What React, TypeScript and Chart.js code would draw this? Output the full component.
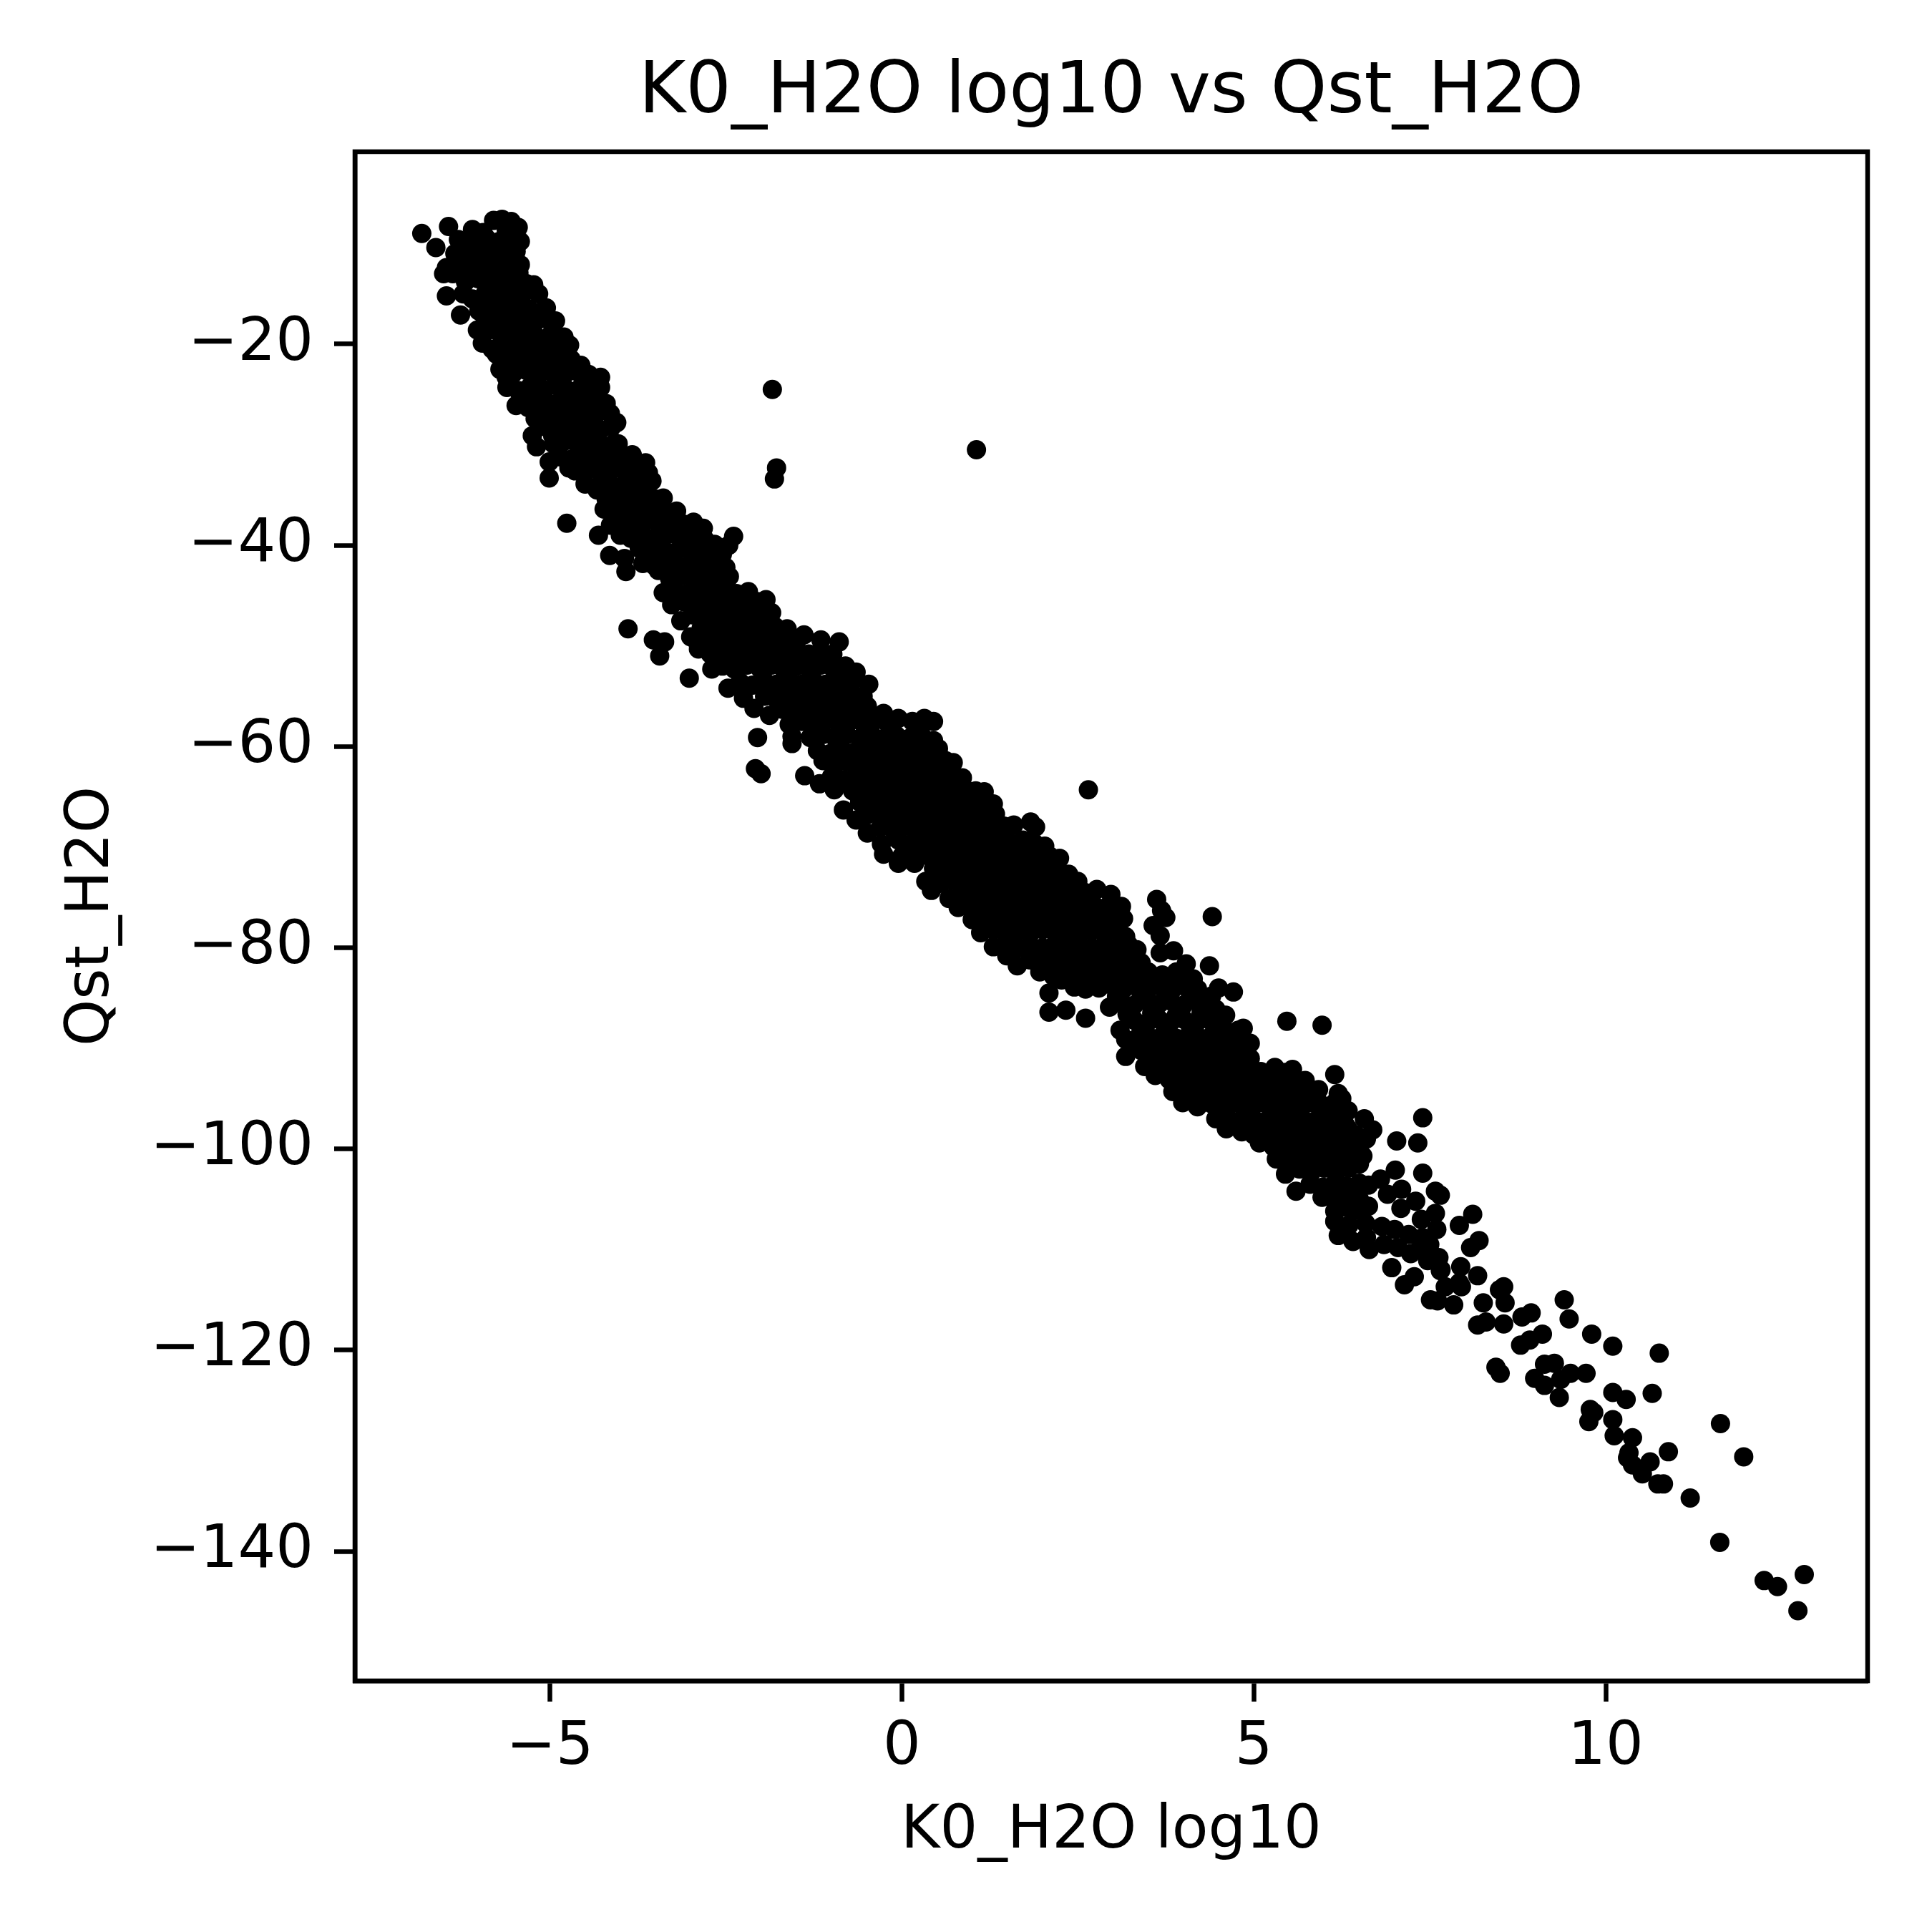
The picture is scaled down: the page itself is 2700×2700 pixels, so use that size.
import { useEffect, useRef } from "react";
import Chart from "chart.js/auto";

// Points, [K0_H2O log10, Qst_H2O]
const topCluster: Array<[number, number]> = [
  [-6.82, -9.0], [-6.62, -10.4], [-6.44, -8.3], [-6.47, -12.4], [-6.51, -13.0], [-6.47, -15.2], [-6.23, -15.0], [-6.27, -17.1], [-6.3, -9.6], [-6.35, -11.0],
  [-5.8, -7.7], [-5.68, -7.6], [-5.55, -7.8], [-5.45, -8.4], [-6.1, -8.6], [-5.95, -8.9], [-5.62, -8.7],
  [-6.05, -9.7], [-5.9, -9.5], [-5.72, -9.8], [-5.55, -9.4], [-5.42, -9.8],
  [-6.15, -10.5], [-6.0, -10.2], [-5.82, -10.6], [-5.65, -10.3], [-5.48, -10.8],
  [-6.23, -11.3], [-6.05, -11.6], [-5.88, -11.2], [-5.7, -11.5], [-5.52, -11.3], [-5.42, -12.1],
  [-6.3, -12.6], [-6.12, -12.3], [-5.95, -12.7], [-5.78, -12.4], [-5.6, -12.8], [-5.44, -12.9],
  [-6.38, -13.0], [-6.2, -13.8], [-6.02, -13.5], [-5.85, -13.9], [-5.67, -13.6], [-5.5, -13.8], [-5.33, -14.0], [-5.23, -14.1],
  [-6.1, -15.5], [-5.92, -15.0], [-5.75, -15.3], [-5.58, -14.9], [-5.4, -15.2], [-5.16, -15.0],
  [-6.01, -16.7], [-5.84, -16.3], [-5.66, -16.6], [-5.49, -16.2], [-5.3, -16.5], [-5.12, -16.8], [-5.05, -16.4],
  [-5.92, -17.8], [-5.75, -17.5], [-5.58, -17.9], [-5.4, -17.6], [-5.22, -17.9], [-5.05, -17.5], [-4.92, -17.7],
  [-6.03, -18.6], [-5.87, -18.6], [-5.7, -19.0], [-5.52, -19.3], [-5.34, -18.9], [-5.16, -19.4], [-4.98, -19.0], [-4.8, -19.3],
];

const upperBand: Array<[number, number]> = [
  [-5.96, -19.9], [-5.82, -20.5], [-5.64, -20.2], [-5.46, -20.6], [-5.28, -20.1], [-5.1, -20.4], [-4.92, -20.7], [-4.72, -20.1],
  [-5.76, -21.0], [-5.6, -21.6], [-5.42, -21.3], [-5.24, -21.8], [-5.06, -21.4], [-4.88, -21.7], [-4.7, -21.5], [-4.56, -22.1],
  [-5.71, -22.5], [-5.52, -22.9], [-5.34, -22.6], [-5.16, -23.0], [-4.98, -22.8], [-4.8, -23.1], [-4.62, -22.7], [-4.45, -23.0],
  [-5.62, -23.3], [-4.28, -23.3],
  [-5.61, -24.3], [-5.45, -24.6], [-5.28, -24.2], [-5.1, -24.5], [-4.92, -24.1], [-4.74, -24.6], [-4.56, -24.3], [-4.4, -24.8], [-4.28, -24.3],
  [-5.42, -25.0], [-5.25, -25.8], [-5.08, -25.5], [-4.9, -25.9], [-4.72, -25.6], [-4.55, -25.8], [-4.38, -25.5], [-4.2, -25.9],
  [-5.48, -26.1], [-5.31, -26.3],
  [-5.21, -27.4], [-5.05, -27.0], [-4.88, -27.2], [-4.7, -26.9], [-4.52, -27.3], [-4.35, -27.0], [-4.14, -26.9], [-4.05, -27.8],
  [-5.14, -28.2], [-4.98, -28.5], [-4.8, -28.2], [-4.62, -28.6], [-4.45, -28.3], [-4.28, -28.5], [-4.12, -28.2],
  [-5.25, -29.1], [-4.96, -29.1],
  [-4.95, -29.9], [-4.78, -29.6], [-4.6, -30.0], [-4.42, -29.7], [-4.25, -30.1], [-4.08, -29.8], [-4.03, -29.9],
  [-5.19, -30.2], [-4.87, -31.0],
  [-4.85, -31.2], [-4.68, -31.4], [-4.5, -31.0], [-4.32, -31.3], [-4.15, -31.1], [-3.98, -31.4], [-3.83, -31.0], [-3.64, -31.8],
  [-5.01, -31.7], [-4.73, -32.3], [-4.64, -32.6], [-4.45, -32.4], [-4.28, -32.7], [-4.1, -32.4], [-3.92, -32.7], [-3.75, -32.5], [-3.6, -32.8],
  [-5.01, -33.3], [-4.51, -32.9],
  [-4.5, -33.9], [-4.33, -34.2], [-4.16, -33.8], [-3.98, -34.1], [-3.8, -33.8], [-3.62, -34.0], [-3.55, -33.6],
  [-4.33, -34.5], [-4.2, -35.4], [-4.02, -35.1], [-3.85, -35.5], [-3.68, -35.2], [-3.5, -35.4], [-3.39, -35.3],
  [-4.23, -36.4], [-4.08, -36.7], [-3.9, -36.3], [-3.72, -36.6], [-3.55, -36.4], [-3.38, -36.8], [-3.2, -36.6],
  [-4.14, -38.0], [-3.98, -37.6], [-3.8, -37.9], [-3.62, -37.5], [-3.45, -37.8], [-3.28, -37.6], [-3.1, -37.9], [-2.96, -37.7], [-2.82, -38.3],
  [-4.31, -39.0], [-4.0, -39.0], [-3.85, -39.3], [-3.68, -38.9], [-3.5, -39.2], [-3.32, -38.9], [-3.15, -39.3], [-2.98, -39.0], [-2.8, -39.4],
  [-2.66, -39.9], [-2.46, -40.0], [-2.39, -39.1],
  [-3.73, -40.3], [-3.58, -40.6], [-3.4, -40.3], [-3.22, -40.7], [-3.05, -40.4], [-2.88, -40.7], [-2.7, -40.5], [-2.55, -40.9],
  [-4.15, -41.0], [-3.94, -41.3], [-3.92, -42.6],
  [-3.68, -41.8], [-3.52, -42.0], [-3.35, -41.7], [-3.18, -42.1], [-3.0, -41.8], [-2.82, -42.1], [-2.65, -41.8], [-2.5, -42.2],
  [-3.46, -42.5], [-3.3, -43.3], [-3.12, -43.0], [-2.95, -43.4], [-2.78, -43.1], [-2.6, -43.4], [-2.45, -43.1],
  [-3.39, -44.7], [-3.22, -44.5], [-3.05, -44.8], [-2.88, -44.4], [-2.7, -44.7], [-2.52, -44.5], [-2.35, -44.8], [-2.18, -44.6],
  [-3.27, -45.9], [-3.1, -45.6], [-2.92, -45.9], [-2.75, -45.5], [-2.58, -45.8], [-2.4, -45.5], [-2.22, -45.9], [-2.05, -45.6], [-1.93, -45.4],
  [-3.14, -47.5], [-2.98, -46.9], [-2.8, -47.2], [-2.62, -46.8], [-2.45, -47.1], [-2.28, -46.8], [-2.1, -47.1], [-1.92, -46.8], [-1.85, -46.7],
  [-3.0, -49.1], [-2.85, -48.2], [-2.68, -48.5], [-2.5, -48.1], [-2.32, -48.4], [-2.15, -48.1], [-1.98, -48.4], [-1.8, -48.1], [-1.63, -48.3],
  [-3.89, -48.3], [-3.53, -49.4], [-3.37, -49.6], [-3.44, -51.0],
  [-2.9, -49.7], [-2.72, -49.4], [-2.55, -49.7], [-2.38, -49.3], [-2.2, -49.6], [-2.02, -49.3], [-1.85, -49.6], [-1.68, -49.3], [-1.5, -49.6], [-1.39, -48.9], [-1.15, -49.4], [-0.89, -49.6],
];

const middleBand: Array<[number, number]> = [
  [-2.89, -50.3], [-2.72, -50.8], [-2.55, -50.5], [-2.38, -50.9], [-2.2, -50.6], [-2.02, -50.9], [-1.85, -50.6], [-1.68, -50.9], [-1.5, -50.5], [-1.32, -50.8], [-1.15, -50.5], [-0.98, -50.8],
  [-3.02, -53.2], [-2.7, -52.3], [-2.55, -52.0], [-2.38, -52.3], [-2.2, -51.9], [-2.02, -52.2], [-1.85, -51.9], [-1.68, -52.3], [-1.5, -52.0], [-1.32, -52.3], [-1.15, -51.9], [-0.98, -52.2], [-0.8, -52.0], [-0.65, -52.6],
  [-2.47, -54.2], [-2.3, -53.6], [-2.12, -53.9], [-1.95, -53.5], [-1.78, -53.8], [-1.6, -53.4], [-1.42, -53.8], [-1.25, -53.5], [-1.08, -53.8], [-0.9, -53.4], [-0.72, -53.7], [-0.47, -53.8],
  [-2.25, -55.2], [-1.95, -55.0], [-1.78, -55.3], [-1.6, -54.9], [-1.42, -55.2], [-1.25, -54.9], [-1.08, -55.2], [-0.9, -54.9], [-0.72, -55.2], [-0.55, -55.0],
  [-2.1, -56.2], [-1.88, -56.9], [-1.7, -56.3], [-1.52, -56.6], [-1.35, -56.2], [-1.18, -56.5], [-1.0, -56.2], [-0.82, -56.5], [-0.65, -56.2], [-0.49, -56.0], [-0.26, -56.7],
  [-1.6, -57.8], [-1.42, -57.5], [-1.25, -57.8], [-1.08, -57.4], [-0.9, -57.7], [-0.72, -57.4], [-0.55, -57.7], [-0.38, -57.4], [-0.2, -57.7], [-0.05, -57.2], [0.15, -57.5], [0.32, -57.2], [0.45, -57.5],
  [-1.2, -58.3], [-0.85, -58.2], [-0.5, -58.3], [-0.15, -58.2], [0.2, -58.3],
  [-2.05, -59.1], [-1.56, -59.0], [-1.56, -59.7], [-1.3, -59.1], [-1.12, -58.8], [-0.95, -59.1], [-0.78, -58.8], [-0.6, -59.2], [-0.42, -58.9], [-0.25, -59.2], [-0.08, -58.9], [0.1, -59.2], [0.28, -58.9], [0.45, -59.4],
  [-1.2, -60.4], [-1.02, -60.7], [-0.85, -60.3], [-0.68, -60.6], [-0.5, -60.3], [-0.32, -60.6], [-0.15, -60.3], [0.02, -60.6], [0.2, -60.3], [0.38, -60.6], [0.52, -60.2],
  [-1.12, -61.4], [-0.95, -61.8], [-0.78, -61.5], [-0.6, -61.8], [-0.42, -61.5], [-0.25, -61.8], [-0.08, -61.5], [0.1, -61.8], [0.28, -61.5], [0.45, -61.8], [0.62, -61.4], [0.73, -61.6],
  [-2.08, -62.2], [-2.0, -62.7], [-1.38, -62.9],
  [-1.0, -63.0], [-0.82, -63.3], [-0.65, -62.9], [-0.48, -63.2], [-0.3, -62.9], [-0.12, -63.2], [0.05, -62.9], [0.22, -63.2], [0.4, -62.9], [0.58, -63.2], [0.75, -62.9], [0.86, -63.1],
  [-1.17, -63.7], [-0.96, -64.3], [-0.7, -64.4], [-0.52, -64.1], [-0.35, -64.4], [-0.18, -64.1], [0.0, -64.4], [0.18, -64.1], [0.35, -64.4], [0.52, -64.1], [0.7, -64.4], [0.88, -64.1], [1.05, -64.4], [1.17, -64.5],
  [-0.6, -65.5], [-0.42, -65.8], [-0.25, -65.4], [-0.08, -65.7], [0.1, -65.4], [0.28, -65.7], [0.45, -65.4], [0.62, -65.7], [0.8, -65.4], [0.98, -65.7], [1.15, -65.4], [1.3, -65.7],
  [-0.83, -66.3], [-0.5, -66.8], [-0.32, -66.5], [-0.15, -66.8], [0.02, -66.5], [0.2, -66.8], [0.38, -66.5], [0.55, -66.8], [0.72, -66.5], [0.9, -66.8], [1.08, -66.5], [1.25, -66.8], [1.33, -66.7],
  [-0.65, -67.3], [1.59, -67.8], [1.83, -67.5], [1.9, -68.0],
  [-0.3, -68.0], [-0.12, -68.3], [0.05, -67.9], [0.22, -68.2], [0.4, -67.9], [0.58, -68.2], [0.75, -67.9], [0.92, -68.2], [1.1, -67.9], [1.28, -68.2], [1.45, -67.9],
  [-0.49, -68.6],
  [-0.29, -69.7], [-0.05, -69.3], [0.15, -69.6], [0.32, -69.3], [0.5, -69.6], [0.68, -69.3], [0.85, -69.6], [1.02, -69.3], [1.2, -69.6], [1.38, -69.3], [1.55, -69.6], [1.72, -69.3], [1.88, -69.6], [2.03, -69.9],
  [-0.26, -70.7], [0.0, -70.9], [0.2, -70.6], [0.38, -70.9], [0.55, -70.6], [0.72, -70.9], [0.9, -70.6], [1.08, -70.9], [1.25, -70.6], [1.42, -70.9], [1.6, -70.6], [1.78, -70.9], [1.95, -70.6], [2.1, -70.9], [2.24, -71.1],
  [-0.05, -71.6], [0.18, -71.6], [0.45, -72.1], [0.62, -72.3], [0.8, -71.9], [0.98, -72.2], [1.15, -71.9], [1.32, -72.2], [1.5, -71.9], [1.68, -72.2], [1.85, -71.9], [2.02, -72.2], [2.2, -71.9], [2.37, -72.7],
  [0.34, -73.4], [0.55, -73.6], [0.72, -73.3], [0.9, -73.6], [1.08, -73.3], [1.25, -73.6], [1.42, -73.3], [1.6, -73.6], [1.78, -73.3], [1.95, -73.6], [2.12, -73.3], [2.3, -73.6], [2.5, -73.4],
  [0.42, -74.3], [0.67, -75.1], [0.85, -74.6], [1.02, -74.9], [1.2, -74.5], [1.38, -74.8], [1.55, -74.5], [1.72, -74.8], [1.9, -74.5], [2.08, -74.8], [2.25, -74.5], [2.42, -74.8], [2.6, -74.5], [2.77, -74.2], [2.97, -74.7],
  [0.8, -76.0], [0.98, -75.7], [1.15, -76.1], [1.32, -75.8], [1.5, -76.1], [1.68, -75.7], [1.85, -76.0], [2.02, -75.7], [2.2, -76.0], [2.38, -75.7], [2.55, -76.0], [2.72, -75.7], [2.9, -76.0], [3.12, -75.9],
  [1.0, -77.2], [1.18, -76.9], [1.35, -77.3], [1.52, -77.0], [1.7, -77.3], [1.88, -76.9], [2.05, -77.2], [2.22, -76.9], [2.4, -77.3], [2.58, -77.0], [2.75, -77.3], [2.92, -77.0], [3.15, -77.1],
  [1.12, -78.5], [1.3, -78.2], [1.48, -78.6], [1.65, -78.3], [1.82, -78.6], [2.0, -78.2], [2.18, -78.5], [2.35, -78.2], [2.52, -78.6], [2.7, -78.3], [2.88, -78.6], [3.05, -78.3], [3.18, -78.9],
  [1.3, -79.9], [1.48, -79.6], [1.65, -80.0], [1.82, -79.7], [2.0, -80.0], [2.18, -79.6], [2.35, -79.9], [2.52, -79.6], [2.7, -80.0], [2.88, -79.7], [3.05, -80.0], [3.22, -79.7], [3.34, -80.2],
  [3.62, -75.2], [3.69, -76.3], [3.75, -77.0], [3.57, -77.8], [3.67, -78.8], [3.67, -80.5], [3.86, -80.3],
];

const lowerBand: Array<[number, number]> = [
  [1.55, -80.6], [1.9, -80.7], [2.25, -80.5], [2.6, -80.7], [2.95, -80.5], [3.3, -80.7],
  [1.49, -80.8], [1.64, -81.8], [1.82, -81.2], [2.0, -81.5], [2.18, -81.1], [2.35, -81.4], [2.52, -81.1], [2.7, -81.5], [2.88, -81.1], [3.05, -81.4], [3.22, -81.1], [3.4, -81.5], [4.04, -81.6], [4.37, -81.8],
  [1.96, -82.4], [2.15, -82.8], [2.32, -82.5], [2.5, -82.8], [2.68, -82.4], [2.85, -82.7], [3.02, -82.4], [3.2, -82.8], [3.38, -82.5], [3.5, -82.4], [3.7, -82.7], [3.9, -82.4], [4.14, -83.1],
  [2.4, -83.3], [2.75, -83.2], [3.1, -83.3], [3.45, -83.2], [3.8, -83.3],
  [2.09, -84.5], [2.27, -83.2], [2.61, -84.1], [2.45, -83.9], [2.8, -84.0], [2.98, -83.7], [3.15, -84.1], [3.32, -83.8], [3.5, -84.1], [3.68, -83.8], [3.85, -84.1], [4.02, -83.8], [4.2, -84.1], [4.5, -84.0], [4.71, -84.4],
  [3.05, -84.8], [3.4, -84.9], [3.75, -84.7], [4.1, -84.9], [4.4, -84.8],
  [2.09, -86.4], [2.33, -86.2], [2.61, -87.0], [2.95, -85.9], [3.12, -85.4], [3.3, -85.7], [3.48, -85.3], [3.65, -85.6], [3.82, -85.3], [4.0, -85.7], [4.18, -85.3], [4.35, -85.6], [4.46, -86.1],
  [3.2, -86.6], [3.55, -86.5], [3.9, -86.7], [4.25, -86.5], [4.6, -86.7],
  [3.1, -88.2], [3.3, -87.2], [3.48, -87.5], [3.65, -87.1], [3.82, -87.4], [4.0, -87.1], [4.18, -87.5], [4.35, -87.1], [4.55, -87.4], [4.78, -88.2],
  [3.4, -88.0], [3.75, -88.1], [4.1, -87.9], [4.45, -88.1], [4.85, -88.0],
  [5.47, -87.3], [5.97, -87.7],
  [3.18, -89.1], [3.38, -88.7], [3.55, -89.0], [3.72, -88.6], [3.9, -89.0], [4.08, -88.7], [4.25, -89.0], [4.42, -88.6], [4.6, -88.9], [4.78, -89.1], [4.95, -89.5],
  [3.3, -89.7], [3.65, -89.8], [4.0, -89.6], [4.35, -89.8], [4.7, -89.7],
  [3.18, -90.8], [3.4, -90.2], [3.58, -90.5], [3.75, -90.1], [3.92, -90.4], [4.1, -90.1], [4.28, -90.5], [4.45, -90.2], [4.62, -90.5], [4.8, -90.2],
  [3.5, -91.0], [3.85, -91.1], [4.2, -90.9], [4.55, -91.1], [4.95, -91.0],
  [3.45, -91.8], [3.62, -91.5], [3.8, -91.9], [3.98, -91.6], [4.15, -91.9], [4.32, -91.5], [4.5, -91.8], [4.68, -91.5], [4.88, -91.6], [5.3, -91.9], [5.55, -92.1],
  [3.7, -92.3], [4.05, -92.4], [4.4, -92.2], [4.75, -92.4], [5.1, -92.3], [5.45, -92.4],
  [3.6, -92.7], [3.8, -93.1], [3.98, -92.8], [4.15, -93.1], [4.32, -92.8], [4.5, -93.1], [4.68, -92.8], [4.85, -93.1], [5.02, -92.8], [5.2, -93.1], [5.38, -92.8], [5.55, -93.1], [5.73, -93.2], [6.15, -92.6],
  [3.9, -93.7], [4.25, -93.6], [4.6, -93.8], [4.95, -93.6], [5.3, -93.8], [5.65, -93.6],
  [3.85, -94.3], [4.02, -94.0], [4.2, -94.4], [4.38, -94.1], [4.55, -94.4], [4.72, -94.0], [4.9, -94.3], [5.08, -94.0], [5.25, -94.4], [5.42, -94.1], [5.6, -94.4], [5.78, -94.0], [5.92, -94.1], [6.2, -94.5],
  [4.1, -95.0], [4.5, -95.1], [4.85, -94.9], [5.2, -95.1], [5.55, -94.9], [5.9, -95.1], [6.25, -95.0],
  [3.99, -95.4], [4.2, -95.8], [4.4, -95.5], [4.58, -95.8], [4.75, -95.4], [4.92, -95.7], [5.1, -95.4], [5.28, -95.8], [5.45, -95.5], [5.62, -95.8], [5.8, -95.4], [5.98, -95.7], [6.15, -95.4], [6.34, -96.2], [7.4, -96.9],
  [4.6, -96.4], [4.9, -96.3], [5.25, -96.5], [5.6, -96.3], [5.95, -96.5], [6.25, -96.4],
  [4.46, -97.0], [4.61, -98.0], [4.8, -97.2], [4.98, -96.9], [5.15, -97.3], [5.32, -96.9], [5.5, -97.2], [5.68, -96.9], [5.85, -97.3], [6.1, -97.0], [6.57, -97.0], [6.34, -98.0], [6.69, -98.1],
  [4.9, -97.8], [5.25, -97.7], [5.6, -97.9], [5.95, -97.7], [6.3, -97.6],
  [4.83, -98.3], [5.0, -98.6], [5.18, -98.3], [5.35, -98.6], [5.52, -98.2], [5.7, -98.5], [5.88, -98.2], [6.05, -98.6], [6.22, -98.3], [6.45, -98.6],
  [5.2, -99.0], [5.55, -99.1], [5.9, -98.9], [6.25, -99.1], [6.6, -99.0],
  [5.08, -99.4], [5.28, -99.8], [5.45, -99.5], [5.62, -99.8], [5.8, -99.4], [5.98, -99.7], [6.15, -99.4], [6.32, -99.8], [6.5, -99.5], [7.03, -99.2], [7.33, -99.4],
  [5.4, -100.2], [5.75, -100.3], [6.1, -100.1], [6.45, -100.3],
  [5.32, -101.0], [5.5, -100.7], [5.68, -101.0], [5.85, -100.6], [6.02, -100.9], [6.2, -100.6], [6.38, -101.0], [6.55, -100.7],
  [5.55, -101.6], [5.9, -101.5], [6.25, -101.7], [6.5, -101.5],
  [5.45, -102.5], [5.65, -102.0], [5.82, -102.3], [6.0, -101.9], [6.18, -102.2], [6.35, -101.9], [7.01, -102.1], [7.4, -102.4], [6.8, -103.0],
  [5.6, -104.2], [5.8, -103.5], [5.98, -103.8], [6.15, -103.4], [6.32, -103.7], [6.5, -103.4], [6.63, -103.6],
  [5.97, -104.8], [6.15, -105.1], [6.32, -104.7], [6.5, -105.0], [6.9, -104.5], [7.1, -104.0], [7.58, -104.2], [7.65, -104.6], [7.3, -105.2],
  [6.15, -106.2], [6.3, -105.8], [6.45, -106.1], [6.63, -105.7], [7.09, -105.9], [7.58, -106.4], [8.11, -106.5], [7.38, -107.0],
  [6.15, -107.2], [6.35, -107.6], [6.59, -107.4], [6.82, -107.7], [7.0, -108.0], [7.92, -107.6], [7.6, -108.0],
  [6.2, -108.6], [6.41, -109.2], [6.6, -108.8], [7.2, -108.5], [7.4, -108.8], [8.2, -109.1], [6.85, -109.5],
  [6.64, -110.0], [7.05, -109.8], [7.23, -110.4], [7.35, -110.0], [7.5, -109.5], [7.47, -111.1], [7.63, -110.8], [8.08, -109.8],
  [6.96, -111.8], [7.14, -113.5], [7.28, -112.7], [7.65, -112.1], [7.66, -112.0], [8.18, -112.6], [7.92, -113.3], [7.94, -111.7],
  [7.72, -113.7], [7.95, -113.7], [8.55, -113.7], [8.49, -114.0],
];

const tail: Array<[number, number]> = [
  [7.51, -115.0], [7.61, -115.1], [7.84, -115.5], [8.26, -115.3], [8.57, -115.3], [8.18, -117.5], [8.3, -117.2], [8.55, -117.4],
  [8.81, -116.7], [8.94, -116.3], [9.1, -118.4], [8.92, -119.0], [8.79, -119.5], [9.41, -115.0], [9.48, -116.9], [9.8, -118.4],
  [10.1, -119.6], [10.76, -120.3], [8.44, -121.7], [8.5, -122.3], [8.99, -122.8], [9.13, -121.4], [9.27, -121.3], [9.13, -123.5],
  [9.34, -124.7], [9.36, -122.9], [9.5, -122.3], [9.72, -122.3], [10.1, -124.2], [10.29, -124.9], [10.66, -124.3], [9.78, -125.9],
  [9.83, -126.2], [9.76, -127.1], [10.1, -126.9], [10.12, -128.5], [10.38, -128.7], [10.33, -130.2], [10.31, -130.7], [10.38, -131.4],
  [10.52, -132.3], [10.63, -131.1], [10.89, -130.1], [10.74, -133.3], [10.82, -133.3], [11.2, -134.7], [11.63, -127.3], [11.96, -130.6],
  [11.62, -139.1], [12.25, -142.9], [12.44, -143.5], [12.82, -142.3], [12.73, -145.9],
];

const outliers: Array<[number, number]> = [
  [-1.84, -24.5], [-1.78, -32.3], [-1.81, -33.4], [1.06, -30.5], [2.65, -64.3], [-4.76, -37.8], [4.41, -76.9],
];

const xTicks = [-5, 0, 5, 10];
const yTicks = [-140, -120, -100, -80, -60, -40, -20];

const FONT = "'DejaVu Sans', sans-serif";
const LINE = 6.5;

const fmt = (v: number | string) => {
  const n = Number(v);
  return n < 0 ? "\u2212" + Math.abs(n) : String(n);
};

// full box round the plot area, like matplotlib spines
const frame = {
  id: "frame",
  afterDatasetsDraw(chart: Chart) {
    const { ctx, chartArea: a } = chart;
    ctx.save();
    ctx.strokeStyle = "#000";
    ctx.lineWidth = LINE;
    ctx.strokeRect(a.left, a.top, a.right - a.left, a.bottom - a.top);
    ctx.restore();
  },
};

export default function App() {
  const canvasRef = useRef<HTMLCanvasElement>(null);

  useEffect(() => {
    if (!canvasRef.current) return;
    const points = [...topCluster, ...upperBand, ...middleBand, ...lowerBand, ...tail, ...outliers];

    const chart = new Chart(canvasRef.current, {
      type: "scatter",
      data: {
        datasets: [
          {
            label: "Qst_H2O",
            data: points.map(([x, y]) => ({ x, y })),
            backgroundColor: "#000",
            borderWidth: 0,
            pointRadius: 13.5,
            pointHoverRadius: 13.5,
          },
        ],
      },
      options: {
        animation: false,
        responsive: false,
        devicePixelRatio: 1,
        layout: { padding: { left: 0, right: 90, top: 0, bottom: 0 } },
        plugins: {
          legend: { display: false },
          tooltip: { enabled: false },
          title: { display: false },
        },
        scales: {
          x: {
            type: "linear",
            position: "bottom",
            min: -7.77,
            max: 13.72,
            afterBuildTicks: (s: any) => {
              s.ticks = xTicks.map((v) => ({ value: v }));
            },
            afterFit: (s: any) => {
              s.height = 351;
            },
            grid: { drawOnChartArea: false, drawTicks: true, tickLength: 29, tickWidth: LINE, tickColor: "#000" },
            border: { display: true, color: "#000", width: LINE },
            ticks: {
              color: "#000",
              font: { family: FONT, size: 83 },
              padding: 16,
              maxRotation: 0,
              autoSkip: false,
              callback: (v: any) => fmt(v),
            },
            title: {
              display: true,
              text: "K0_H2O log10",
              color: "#000",
              font: { family: FONT, size: 83 },
              padding: { top: 0, bottom: 90 },
            },
          },
          x2: {
            type: "linear",
            position: "top",
            min: -7.77,
            max: 13.72,
            afterFit: (s: any) => {
              s.height = 212;
            },
            grid: { display: false, drawTicks: false },
            border: { display: false },
            ticks: { display: false },
            title: {
              display: true,
              text: "K0_H2O log10 vs Qst_H2O",
              color: "#000",
              font: { family: FONT, size: 100 },
              padding: { top: 71, bottom: 0 },
            },
          },
          y: {
            type: "linear",
            position: "left",
            min: -152.87,
            max: -0.87,
            afterBuildTicks: (s: any) => {
              s.ticks = yTicks.map((v) => ({ value: v }));
            },
            afterFit: (s: any) => {
              s.width = 496;
            },
            grid: { drawOnChartArea: false, drawTicks: true, tickLength: 29, tickWidth: LINE, tickColor: "#000" },
            border: { display: true, color: "#000", width: LINE },
            ticks: {
              color: "#000",
              font: { family: FONT, size: 83 },
              padding: 29,
              autoSkip: false,
              callback: (v: any) => fmt(v),
            },
            title: {
              display: true,
              text: "Qst_H2O",
              color: "#000",
              font: { family: FONT, size: 83 },
              padding: { top: 80, bottom: 0 },
            },
          },
        },
      },
      plugins: [frame],
    });

    return () => {
      chart.destroy();
    };
  }, []);

  return (
    <div style={{ position: "absolute", left: 0, top: 0, width: 2700, height: 2700, background: "#fff" }}>
      <canvas ref={canvasRef} width={2700} height={2700} style={{ width: 2700, height: 2700 }}></canvas>
    </div>
  );
}
